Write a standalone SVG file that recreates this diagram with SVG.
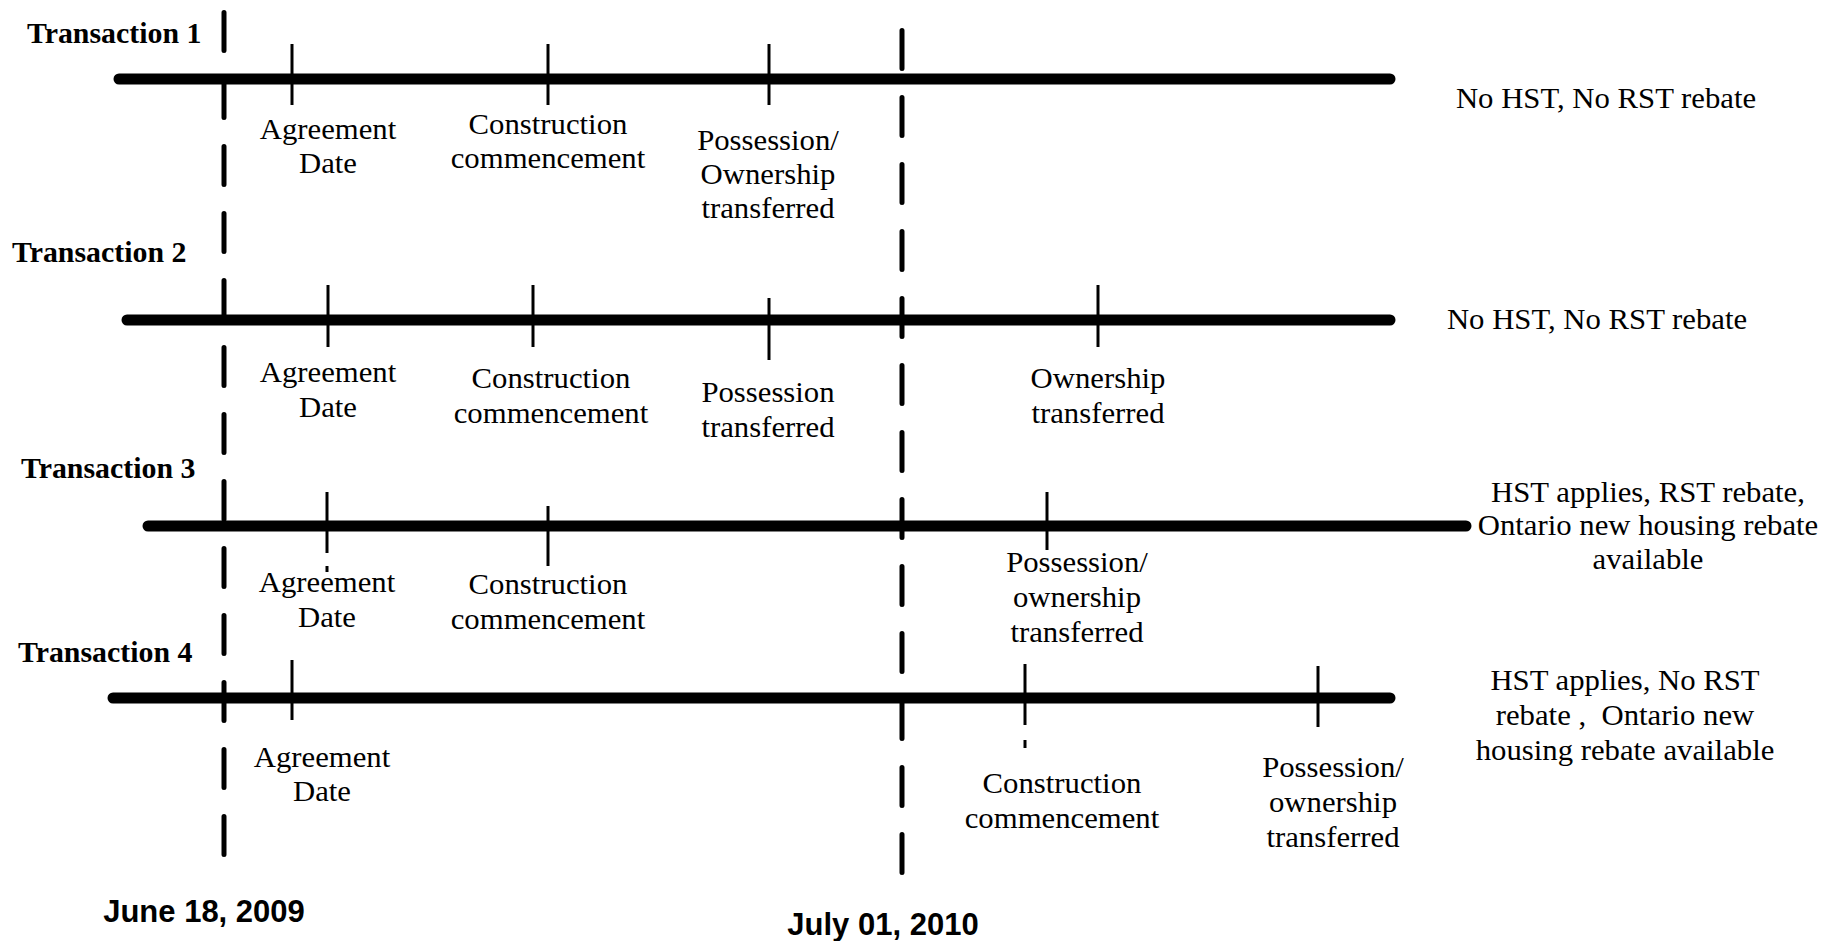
<svg xmlns="http://www.w3.org/2000/svg" width="1841" height="941" viewBox="0 0 1841 941">
<style>
.bg{fill:#ffffff}
.tl{stroke:#000;stroke-width:11;stroke-linecap:round;fill:none}
.tk{stroke:#000;stroke-width:3;fill:none}
.dl{stroke:#000;stroke-width:5;stroke-linecap:round;stroke-dasharray:38 29;fill:none}
.lbl{font-family:"Liberation Serif","Times New Roman",serif;font-size:29px;fill:#000;text-anchor:middle}
.ttl{font-family:"Liberation Serif","Times New Roman",serif;font-size:29px;font-weight:bold;fill:#000}
.date{font-family:"Liberation Sans",Arial,sans-serif;font-size:31px;font-weight:bold;fill:#000;text-anchor:middle}
</style>
<rect class="bg" x="0" y="0" width="1841" height="941"/>

<g id="connectors">
  <!-- timelines -->
  <line class="tl" x1="119" y1="79" x2="1390" y2="79"/>
  <line class="tl" x1="127" y1="320" x2="1390" y2="320"/>
  <line class="tl" x1="148" y1="526" x2="1466" y2="526"/>
  <line class="tl" x1="113" y1="698" x2="1390" y2="698"/>
  <!-- ticks T1 -->
  <line class="tk" x1="292" y1="44" x2="292" y2="105"/>
  <line class="tk" x1="548" y1="44" x2="548" y2="105"/>
  <line class="tk" x1="769" y1="44" x2="769" y2="105"/>
  <!-- ticks T2 -->
  <line class="tk" x1="328" y1="285" x2="328" y2="347"/>
  <line class="tk" x1="533" y1="285" x2="533" y2="347"/>
  <line class="tk" x1="769" y1="298" x2="769" y2="360"/>
  <line class="tk" x1="1098" y1="285" x2="1098" y2="347"/>
  <!-- ticks T3 -->
  <line class="tk" x1="327" y1="492" x2="327" y2="553"/>
  <line class="tk" x1="327" y1="566" x2="327" y2="572"/>
  <line class="tk" x1="548" y1="506" x2="548" y2="566"/>
  <line class="tk" x1="1047" y1="492" x2="1047" y2="550"/>
  <!-- ticks T4 -->
  <line class="tk" x1="292" y1="660" x2="292" y2="720"/>
  <line class="tk" x1="1025" y1="664" x2="1025" y2="725"/>
  <line class="tk" x1="1025" y1="740" x2="1025" y2="748"/>
  <line class="tk" x1="1318" y1="666" x2="1318" y2="727"/>
  <!-- dashed date lines -->
  <line class="dl" x1="224" y1="12.5" x2="224" y2="854.5"/>
  <line class="dl" x1="902" y1="30.5" x2="902" y2="872.5"/>
</g>

<g id="transaction1">
  <text class="ttl" transform="translate(27,43) scale(1.03,1)">Transaction 1</text>
  <text class="lbl" transform="translate(328,139) scale(1.06,1)"><tspan x="0">Agreement</tspan><tspan x="0" dy="34">Date</tspan></text>
  <text class="lbl" transform="translate(548,134) scale(1.06,1)"><tspan x="0">Construction</tspan><tspan x="0" dy="34">commencement</tspan></text>
  <text class="lbl" transform="translate(768,150) scale(1.06,1)"><tspan x="0">Possession/</tspan><tspan x="0" dy="34">Ownership</tspan><tspan x="0" dy="34">transferred</tspan></text>
  <text class="lbl" transform="translate(1606,108) scale(1.06,1)">No HST, No RST rebate</text>
</g>

<g id="transaction2">
  <text class="ttl" transform="translate(12,262) scale(1.03,1)">Transaction 2</text>
  <text class="lbl" transform="translate(328,382) scale(1.06,1)"><tspan x="0">Agreement</tspan><tspan x="0" dy="35">Date</tspan></text>
  <text class="lbl" transform="translate(551,388) scale(1.06,1)"><tspan x="0">Construction</tspan><tspan x="0" dy="35">commencement</tspan></text>
  <text class="lbl" transform="translate(768,402) scale(1.06,1)"><tspan x="0">Possession</tspan><tspan x="0" dy="35">transferred</tspan></text>
  <text class="lbl" transform="translate(1098,388) scale(1.06,1)"><tspan x="0">Ownership</tspan><tspan x="0" dy="35">transferred</tspan></text>
  <text class="lbl" transform="translate(1597,329) scale(1.06,1)">No HST, No RST rebate</text>
</g>

<g id="transaction3">
  <text class="ttl" transform="translate(21,478) scale(1.03,1)">Transaction 3</text>
  <text class="lbl" transform="translate(327,592) scale(1.06,1)"><tspan x="0">Agreement</tspan><tspan x="0" dy="35">Date</tspan></text>
  <text class="lbl" transform="translate(548,594) scale(1.06,1)"><tspan x="0">Construction</tspan><tspan x="0" dy="35">commencement</tspan></text>
  <text class="lbl" transform="translate(1077,572) scale(1.06,1)"><tspan x="0">Possession/</tspan><tspan x="0" dy="35">ownership</tspan><tspan x="0" dy="35">transferred</tspan></text>
  <text class="lbl" transform="translate(1648,502) scale(1.06,1)"><tspan x="0">HST applies, RST rebate,</tspan><tspan x="0" dy="33.5">Ontario new housing rebate</tspan><tspan x="0" dy="33.5">available</tspan></text>
</g>

<g id="transaction4">
  <text class="ttl" transform="translate(18,662) scale(1.03,1)">Transaction 4</text>
  <text class="lbl" transform="translate(322,767) scale(1.06,1)"><tspan x="0">Agreement</tspan><tspan x="0" dy="34">Date</tspan></text>
  <text class="lbl" transform="translate(1062,793) scale(1.06,1)"><tspan x="0">Construction</tspan><tspan x="0" dy="35">commencement</tspan></text>
  <text class="lbl" transform="translate(1333,777) scale(1.06,1)"><tspan x="0">Possession/</tspan><tspan x="0" dy="35">ownership</tspan><tspan x="0" dy="35">transferred</tspan></text>
  <text class="lbl" transform="translate(1625,690) scale(1.06,1)" xml:space="preserve"><tspan x="0">HST applies, No RST</tspan><tspan x="0" dy="35">rebate ,  Ontario new</tspan><tspan x="0" dy="35">housing rebate available</tspan></text>
</g>

<g id="date-june">
  <text class="date" x="204" y="922">June 18, 2009</text>
</g>
<g id="date-july">
  <text class="date" x="883" y="935">July 01, 2010</text>
</g>
</svg>
